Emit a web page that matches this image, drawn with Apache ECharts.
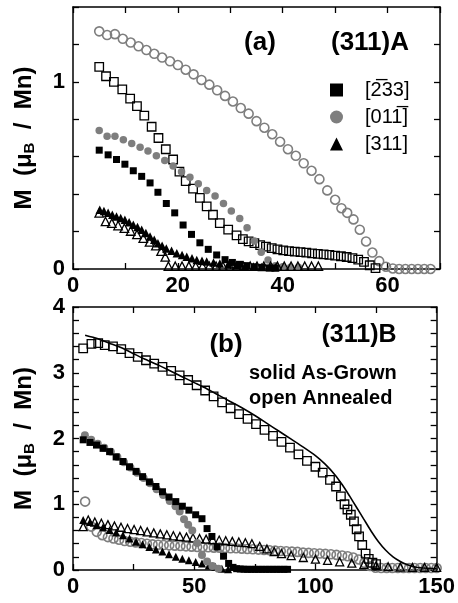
<!DOCTYPE html>
<html><head><meta charset="utf-8">
<script src="https://cdn.jsdelivr.net/npm/echarts@6/dist/echarts.min.js"></script>
<style>html,body{margin:0;padding:0;background:#fff}#c{width:458px;height:603px}</style>
</head><body><div id="c"></div>
<script>
// ---------- Panel (a): (311)A ----------
const aAnnSqX = [5, 6.3, 7.8, 9.4, 10.9, 12.2, 13.6, 15, 16.3, 17.7, 19.1, 20.3, 21.5, 22.9, 24.2, 25.5, 26.7, 28, 29.6, 31.2, 32.4, 33.5, 34.6, 35.7, 36.8, 37.9, 39, 40.1, 41.2, 42.3, 43.4, 44.5, 45.6, 46.7, 47.8, 48.9, 50, 51.1, 52.2, 53.3, 54.4, 55.5, 56.6, 57.7];
const aAnnSqY = [1.08, 1.03, 1.00, 0.96, 0.91, 0.87, 0.82, 0.76, 0.70, 0.64, 0.585, 0.52, 0.47, 0.43, 0.38, 0.335, 0.29, 0.245, 0.21, 0.18, 0.16, 0.148, 0.138, 0.128, 0.12, 0.112, 0.105, 0.10, 0.096, 0.093, 0.09, 0.087, 0.084, 0.081, 0.078, 0.075, 0.072, 0.068, 0.064, 0.058, 0.05, 0.038, 0.02, 0.005];

const aAnnCircX = [5, 6.5, 8, 9.5, 11, 12.5, 14, 15.5, 17, 18.5, 20, 21.5, 23, 24.5, 26, 27.5, 29, 30.5, 32, 33.5, 35, 36.5, 38, 39.5, 41, 42.5, 44, 45.5, 47, 48.5, 50, 51.2, 52.3, 53.5, 54.7, 55.9, 57.1, 58.4, 59.7, 61, 62.2, 63.4, 64.6, 65.8, 67, 68.2];
const aAnnCircY = [1.27, 1.25, 1.255, 1.23, 1.21, 1.19, 1.17, 1.15, 1.13, 1.11, 1.09, 1.065, 1.04, 1.01, 0.985, 0.955, 0.925, 0.895, 0.86, 0.83, 0.79, 0.755, 0.72, 0.68, 0.64, 0.605, 0.565, 0.525, 0.48, 0.42, 0.37, 0.325, 0.30, 0.265, 0.21, 0.147, 0.088, 0.042, 0.012, 0.003, 0, 0, 0, 0, 0, 0];

const aAgSqX = [5, 6.7, 8.3, 9.9, 11.5, 13.1, 14.7, 16.2, 17.8, 19.4, 21, 22.6, 24.2, 25.8, 27.4, 29, 30.4, 31.8, 33.2, 34.6, 36, 37.4, 38.6];
const aAgSqY = [0.635, 0.61, 0.585, 0.56, 0.525, 0.495, 0.46, 0.41, 0.35, 0.30, 0.235, 0.185, 0.14, 0.105, 0.075, 0.05, 0.035, 0.025, 0.018, 0.012, 0.009, 0.006, 0.005];

const aAgCircX = [5, 6.5, 8, 9.6, 11.2, 12.8, 14.3, 15.9, 17.5, 19.1, 20.7, 22.3, 23.9, 25.5, 27.1, 28.7, 30.2, 31.8, 33.2, 34.6, 35.9, 37.2, 38.6, 40, 41.5, 43];
const aAgCircY = [0.74, 0.71, 0.71, 0.69, 0.67, 0.65, 0.63, 0.605, 0.58, 0.55, 0.52, 0.49, 0.455, 0.42, 0.39, 0.35, 0.31, 0.27, 0.22, 0.15, 0.09, 0.048, 0.018, 0.012, 0.01, 0.01];

const aAgTriX = [5.1, 5.9, 6.7, 7.5, 8.3, 9.1, 9.9, 10.7, 11.5, 12.3, 13.1, 13.9, 14.7, 15.5, 16.2, 17, 17.8, 18.8, 19.8, 20.8, 21.7, 22.7, 23.6, 24.6, 25.5, 26.8, 28, 29.6, 31.2, 32.8, 34.4, 36, 37.6, 38.6];
const aAgTriY = [0.317, 0.31, 0.30, 0.29, 0.28, 0.272, 0.263, 0.25, 0.237, 0.224, 0.21, 0.192, 0.174, 0.156, 0.138, 0.124, 0.11, 0.097, 0.084, 0.075, 0.066, 0.057, 0.048, 0.044, 0.04, 0.035, 0.03, 0.025, 0.02, 0.016, 0.013, 0.011, 0.01, 0.01];

const aAnnTriX = [5, 6.2, 7.4, 8.6, 9.8, 11, 12.2, 13.4, 14.6, 15.8, 16.8, 17.6, 18.2, 19.5, 20.8, 22.1, 23.4, 24.7, 26, 27.3, 28.6, 29.9, 31.2, 32.5, 33.8, 35.1, 36.4, 37.7, 39, 40.3, 41.6, 42.9, 44.2, 45.5, 46.8];
const aAnnTriY = [0.30, 0.254, 0.245, 0.232, 0.218, 0.203, 0.185, 0.165, 0.145, 0.125, 0.095, 0.065, 0.015, 0.015, 0.015, 0.015, 0.015, 0.015, 0.015, 0.015, 0.015, 0.015, 0.015, 0.015, 0.015, 0.015, 0.015, 0.015, 0.015, 0.015, 0.015, 0.015, 0.015, 0.015, 0.015];

// ---------- Panel (b): (311)B ----------
const bAgLineX = [5, 10, 15, 20, 25, 30, 35, 40, 45, 50, 55, 60, 65, 70, 75, 80, 85, 90, 95, 100, 104, 108, 111, 114, 117, 120, 123, 126, 129, 132, 135, 138, 141, 144, 147, 150];
const bAgLineY = [3.57, 3.52, 3.45, 3.38, 3.29, 3.20, 3.12, 3.03, 2.94, 2.85, 2.76, 2.66, 2.56, 2.46, 2.35, 2.23, 2.11, 1.99, 1.87, 1.74, 1.61, 1.45, 1.30, 1.13, 0.95, 0.77, 0.59, 0.43, 0.30, 0.20, 0.13, 0.08, 0.045, 0.03, 0.025, 0.02];

const bAnnSqX = [4.2, 7.6, 10.4, 13.1, 16.5, 19.9, 23.3, 26.7, 30.1, 33.5, 36.9, 40.5, 44, 47.5, 51, 54.5, 58, 61.5, 65, 68.5, 72, 75.5, 79, 82.5, 86, 89.5, 93, 96.5, 100, 103, 106, 108.5, 110.5, 112, 113.2, 114.6, 115.9, 117, 118, 119.3, 120.7, 122, 123.5, 125];
const bAnnSqY = [3.37, 3.44, 3.45, 3.42, 3.40, 3.36, 3.30, 3.24, 3.19, 3.14, 3.09, 3.03, 2.96, 2.89, 2.81, 2.73, 2.64, 2.55, 2.46, 2.37, 2.30, 2.22, 2.13, 2.04, 1.95, 1.86, 1.76, 1.66, 1.57, 1.48, 1.37, 1.27, 1.12, 1.0, 0.92, 0.84, 0.74, 0.62, 0.51, 0.38, 0.25, 0.17, 0.11, 0.09];

const bAgSqX = [4.2, 7, 9.7, 12.4, 15.1, 17.8, 20.6, 23.3, 26, 28.7, 31.5, 34.2, 36.9, 39.6, 42.4, 45.1, 47.8, 50.6, 53.2, 55.3, 57.3, 59.4, 62.1, 64.2, 66, 67.5, 69, 70.5, 72, 73.5, 75, 76.5, 78, 79.5, 81, 82.5, 84, 85.5, 87, 88.5];
const bAgSqY = [1.98, 1.94, 1.90, 1.85, 1.80, 1.72, 1.65, 1.57, 1.50, 1.42, 1.34, 1.27, 1.19, 1.11, 1.04, 0.97, 0.91, 0.84, 0.78, 0.63, 0.51, 0.35, 0.21, 0.10, 0.04, 0.02, 0.015, 0.012, 0.01, 0.01, 0.01, 0.01, 0.01, 0.01, 0.01, 0.01, 0.01, 0.01, 0.01, 0.01];

const bAgCircX = [4.9, 7.5, 10.2, 12.9, 15.6, 18.3, 21, 23.7, 26.4, 29.1, 31.8, 34.5, 37.2, 39.9, 42.3, 44, 45.8, 47.5, 49.2, 51.2, 53.2, 55.3, 57.5, 60];
const bAgCircY = [2.05, 1.98, 1.92, 1.86, 1.80, 1.72, 1.64, 1.56, 1.48, 1.40, 1.32, 1.23, 1.14, 1.05, 0.97, 0.89, 0.77, 0.69, 0.60, 0.41, 0.23, 0.13, 0.06, 0.02];

const bAnnCircX = [5, 7.5, 9.8, 12.1, 14.4, 16.7, 19, 21.3, 23.6, 25.9, 28.2, 30.5, 32.8, 35.1, 37.4, 39.7, 42, 44.3, 46.6, 48.9, 51.2, 53.5, 55.8, 58.1, 60.4, 62.7, 65, 67.3, 69.6, 71.9, 74.2, 76.5, 78.8, 81.1, 83.4, 85.7, 88, 90.3, 92.6, 94.9, 97.2, 99.5, 101.8, 104.1, 106.4, 108.7, 111, 113.3, 115.6, 117.9, 120.2, 122.5, 124.8, 127.1, 129.4, 131.7, 134, 136.3, 138.6, 140.9, 143.2, 145.5, 147.8, 150];
const bAnnCircY = [1.04, 0.66, 0.58, 0.53, 0.50, 0.48, 0.46, 0.44, 0.43, 0.42, 0.41, 0.40, 0.39, 0.385, 0.38, 0.375, 0.37, 0.365, 0.36, 0.355, 0.35, 0.35, 0.345, 0.34, 0.34, 0.335, 0.33, 0.33, 0.325, 0.32, 0.315, 0.31, 0.305, 0.30, 0.295, 0.29, 0.285, 0.28, 0.275, 0.265, 0.26, 0.255, 0.25, 0.245, 0.24, 0.23, 0.22, 0.21, 0.19, 0.16, 0.11, 0.06, 0.035, 0.03, 0.03, 0.03, 0.03, 0.03, 0.03, 0.03, 0.03, 0.03, 0.03, 0.03];

const bAgTriX = [4.2, 7, 9.7, 12.4, 15.1, 17.8, 20.6, 23.3, 26, 28.7, 31.5, 34.2, 36.9, 39.6, 42.4, 45.1, 47.8, 50.6, 53.2, 56, 58.7, 61.4, 64];
const bAgTriY = [0.76, 0.73, 0.68, 0.65, 0.61, 0.57, 0.53, 0.48, 0.43, 0.39, 0.35, 0.31, 0.28, 0.24, 0.20, 0.17, 0.15, 0.12, 0.10, 0.07, 0.05, 0.02, 0.01];

const bAnnTriX = [4.2, 6.3, 9, 11.7, 14.4, 17.1, 19.8, 22.5, 25.2, 27.9, 30.6, 33.3, 36, 38.7, 41.4, 44.1, 46.8, 49.5, 52.2, 54.9, 57.6, 60.3, 63, 65.7, 68.4, 71.1, 73.8, 77, 80, 83, 86, 90, 95, 100, 105, 110, 115, 120, 125, 130, 135, 140, 145, 150];
const bAnnTriY = [0.66, 0.76, 0.73, 0.71, 0.69, 0.67, 0.65, 0.63, 0.615, 0.60, 0.58, 0.565, 0.55, 0.535, 0.52, 0.51, 0.50, 0.49, 0.48, 0.47, 0.46, 0.455, 0.445, 0.435, 0.425, 0.415, 0.40, 0.36, 0.32, 0.28, 0.25, 0.22, 0.19, 0.165, 0.145, 0.125, 0.105, 0.085, 0.065, 0.05, 0.045, 0.04, 0.04, 0.04];

// tick label values
const aXLabels = [0, 20, 40, 60];
const aYLabels = [0, 1];
const bXLabels = [0, 50, 100, 150];
const bYLabels = [0, 1, 2, 3, 4];
const legendNames = ['[2\u030533]', '[01' + '1\u0305' + ']', '[311]'];

function zip(xs, ys) { const n = Math.min(xs.length, ys.length); const o = []; for (let i = 0; i < n; i++) o.push([xs[i], ys[i]]); return o; }
function inList(list) { return v => list.some(t => Math.abs(t - v) < 1e-6) ? String(Math.round(v)) : ''; }

const FONT = '"Liberation Sans", Arial, Helvetica, sans-serif';
const GRAY = '#7e7e7e';
const lbl = { fontSize: 22, fontWeight: 'bold', color: '#000', fontFamily: FONT };
const axLine = { show: true, onZero: false, lineStyle: { color: '#000', width: 1.5 } };
const tick = { show: true, inside: true, length: 6, lineStyle: { color: '#000', width: 1.3 } };

function xAx(grid, max, interval, labels, top) {
  return { type: 'value', gridIndex: grid, min: 0, max: max, interval: interval, position: top ? 'top' : 'bottom',
    axisLine: axLine, axisTick: tick, splitLine: { show: false },
    axisLabel: top ? { show: false } : Object.assign({ margin: 6, formatter: inList(labels), showMinLabel: true, showMaxLabel: true, hideOverlap: false }, lbl) };
}
function yAx(grid, max, labels, right) {
  const o = { type: 'value', gridIndex: grid, min: 0, max: max, interval: 0.2, position: right ? 'right' : 'left',
    axisLine: axLine, axisTick: tick, splitLine: { show: false },
    axisLabel: right ? { show: false } : Object.assign({ margin: 8, formatter: inList(labels), showMinLabel: true, showMaxLabel: true, hideOverlap: false }, lbl) };
  if (!right) {
    o.name = '{m|M  (\u03bc}{s|B}{m|  /  Mn)}';
    o.nameLocation = 'middle'; o.nameRotate = 90; o.nameGap = 36;
    o.nameTextStyle = { rich: {
      m: { fontSize: 24, fontWeight: 'bold', color: '#000', fontFamily: FONT },
      s: { fontSize: 15, fontWeight: 'bold', color: '#000', fontFamily: FONT, padding: [11, 0, 0, 0] } } };
  }
  return o;
}

function sc(name, xi, yi, xs, ys, symbol, size, style, extra) {
  return Object.assign({ name: name, type: 'scatter', xAxisIndex: xi, yAxisIndex: yi, data: zip(xs, ys),
    symbol: symbol, symbolSize: size, itemStyle: Object.assign({ opacity: 1 }, style), clip: false, silent: true }, extra || {});
}
const openBlack = { color: 'rgba(255,255,255,0)', borderColor: '#000', borderWidth: 1.3 };
const openGray = { color: 'rgba(255,255,255,0)', borderColor: GRAY, borderWidth: 1.6 };
const solidBlack = { color: '#000' };
const solidGray = { color: GRAY };

const chart = echarts.init(document.getElementById('c'), null, { renderer: 'canvas' });
chart.setOption({
  animation: false,
  backgroundColor: '#fff',
  grid: [
    { left: 73, right: 18, top: 7, height: 262 },
    { left: 73, right: 18, top: 307, height: 263 }
  ],
  xAxis: [
    xAx(0, 70, 10, aXLabels, false), xAx(0, 70, 10, aXLabels, true),
    xAx(1, 150, 25, bXLabels, false), xAx(1, 150, 25, bXLabels, true)
  ],
  yAxis: [
    yAx(0, 1.4, aYLabels, false), yAx(0, 1.4, aYLabels, true),
    yAx(1, 4, bYLabels, false), yAx(1, 4, bYLabels, true)
  ],
  legend: {
    show: true, orient: 'vertical', left: 325, top: 75, itemWidth: 13, itemHeight: 13, itemGap: 7,
    selectedMode: false, data: legendNames,
    textStyle: { fontSize: 20, color: '#000', fontFamily: FONT, lineHeight: 20, padding: [0, 0, 0, 17] }
  },
  series: [
    sc('a-ann-011', 0, 0, aAnnCircX, aAnnCircY, 'circle', 9, openGray),
    sc('a-ann-233', 0, 0, aAnnSqX, aAnnSqY, 'rect', 8.5, openBlack),
    sc(legendNames[1], 0, 0, aAgCircX, aAgCircY, 'circle', 7.5, solidGray),
    sc(legendNames[0], 0, 0, aAgSqX, aAgSqY, 'rect', 7, solidBlack),
    sc('a-ann-311', 0, 0, aAnnTriX, aAnnTriY, 'triangle', 8.5, openBlack),
    sc(legendNames[2], 0, 0, aAgTriX, aAgTriY, 'triangle', 8.5, solidBlack),

    sc('b-ann-011', 2, 2, bAnnCircX, bAnnCircY, 'circle', 9, openGray),
    sc('b-ann-311', 2, 2, bAnnTriX, bAnnTriY, 'triangle', 8, openBlack),
    sc('b-ag-311', 2, 2, bAgTriX, bAgTriY, 'triangle', 8, solidBlack),
    sc('b-ag-011', 2, 2, bAgCircX, bAgCircY, 'circle', 8, solidGray),
    sc('b-ag-233', 2, 2, bAgSqX, bAgSqY, 'rect', 7, solidBlack),
    sc('b-ann-233', 2, 2, bAnnSqX, bAnnSqY, 'rect', 8.5, openBlack),
    { name: 'b-ag-233-line', type: 'line', xAxisIndex: 2, yAxisIndex: 2, data: zip(bAgLineX, bAgLineY),
      showSymbol: false, smooth: 0.2, lineStyle: { color: '#000', width: 1.6 }, silent: true }
  ],
  graphic: [
    { type: 'text', x: 260, y: 43, style: { text: '(a)', font: 'bold 26px ' + FONT, fill: '#000', align: 'center', verticalAlign: 'middle' } },
    { type: 'text', x: 370, y: 43, style: { text: '(311)A', font: 'bold 26px ' + FONT, fill: '#000', align: 'center', verticalAlign: 'middle' } },
    { type: 'text', x: 226, y: 345, style: { text: '(b)', font: 'bold 26px ' + FONT, fill: '#000', align: 'center', verticalAlign: 'middle' } },
    { type: 'text', x: 359, y: 335, style: { text: '(311)B', font: 'bold 25px ' + FONT, fill: '#000', align: 'center', verticalAlign: 'middle' } },
    { type: 'text', x: 249, y: 373, style: { text: 'solid As-Grown', font: 'bold 20px ' + FONT, fill: '#000', align: 'left', verticalAlign: 'middle' } },
    { type: 'text', x: 249, y: 398, style: { text: 'open Annealed', font: 'bold 20px ' + FONT, fill: '#000', align: 'left', verticalAlign: 'middle' } }
  ]
});
</script></body></html>
